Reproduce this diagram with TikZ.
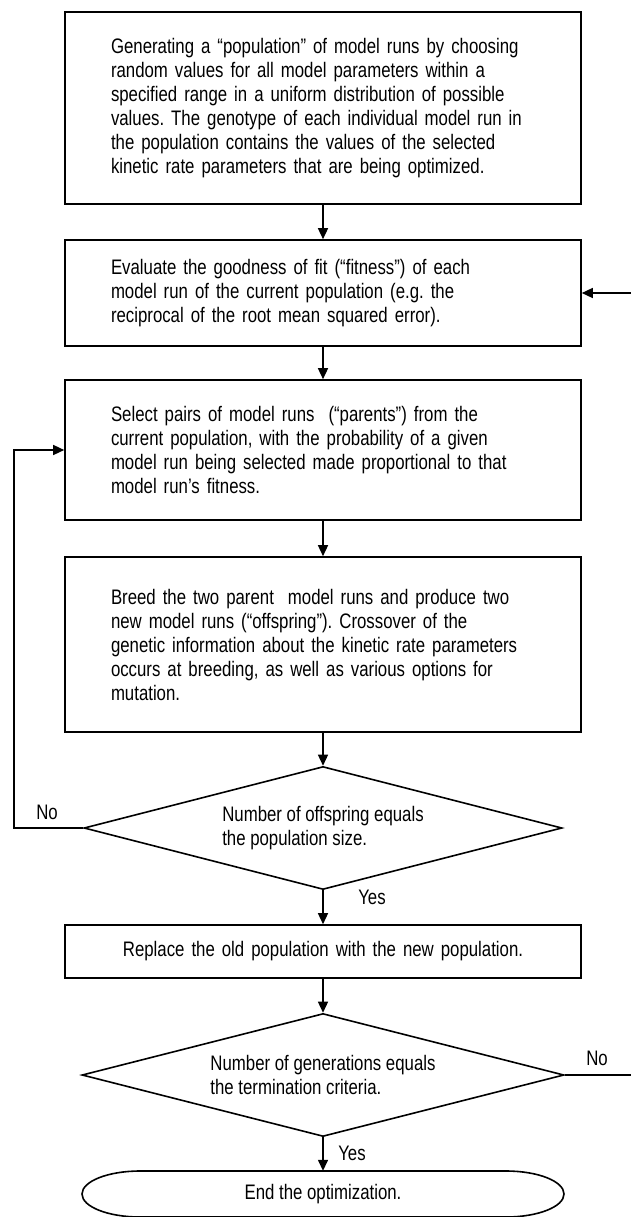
\documentclass[tikz,border=0pt]{standalone}
\usepackage{fontspec}
\setmainfont{Liberation Sans}[FakeStretch=0.80]
\usetikzlibrary{shapes.geometric,arrows.meta}
\begin{document}
\frenchspacing
\begin{tikzpicture}[x=1pt,y=-1pt,
  every node/.style={font=\fontsize{21}{24}\selectfont},
  procbox/.style={draw, line width=1.6pt, minimum width=516pt, text width=424pt, inner xsep=46pt, inner ysep=0pt, align=left},
  decbox/.style={draw, diamond, line width=1.6pt, aspect=3.9, inner sep=0pt, align=left, minimum height=123pt},
  flow/.style={line width=1.4pt, -{Triangle[length=11pt,width=10pt]}},
  lbl/.style={inner sep=0pt},
  outline/.style={line width=1.6pt}]
\useasboundingbox (0,0) rectangle (630,1217);

\node[procbox, minimum height=192pt] (b1) at (323,108) {Generating a “population” of model runs by choosing\\ random values for all model parameters within a\\ specified range in a uniform distribution of possible\\ values. The genotype of each individual model run in\\ the population contains the values of the selected\\ kinetic rate parameters that are being optimized.};

\node[procbox, minimum height=106pt] (b2) at (323,293) {Evaluate the goodness of fit (“fitness”) of each\\ model run of the current population (e.g. the\\ reciprocal of the root mean squared error).};

\node[procbox, minimum height=140pt] (b3) at (323,450) {Select pairs of model runs\ \ (“parents”) from the\\ current population, with the probability of a given\\ model run being selected made proportional to that\\ model run’s fitness.};

\node[procbox, minimum height=175pt] (b4) at (323,644.5) {Breed the two parent\ \ model runs and produce two\\ new model runs (“offspring”). Crossover of the\\ genetic information about the kinetic rate parameters\\ occurs at breeding, as well as various options for\\ mutation.};

\node[decbox, minimum width=478pt] (d1) at (323,828) {Number of offspring equals\\ the population size.};

\node[procbox, minimum height=53pt, align=center] (b5) at (323,951.5) {Replace the old population with the new population.};

\node[decbox, minimum width=482pt] (d2) at (323,1075) {Number of generations equals\\ the termination criteria.};

\node[inner sep=0pt, minimum width=483pt, minimum height=46pt] (e) at (323,1194) {End the optimization.};
\draw[outline] (140,1171) -- (506,1171) arc[start angle=-90, end angle=90, x radius=58, y radius=23]
  -- (140,1217) arc[start angle=90, end angle=270, x radius=58, y radius=23] -- cycle;

\draw[flow] (b1.south) -- (b2.north);
\draw[flow] (b2.south) -- (b3.north);
\draw[flow] (b3.south) -- (b4.north);
\draw[flow] (b4.south) -- (d1.north);
\draw[flow] (d1.south) -- (b5.north);
\draw[flow] (b5.south) -- (d2.north);
\draw[flow] (d2.south) -- (e.north);

\coordinate (l1) at (14,828);
\coordinate (l2) at (14,450);
\draw[flow] (d1.west) -- (l1) -- (l2) -- (b3.west);

\coordinate (r1) at (640,1075);
\coordinate (r2) at (640,293);
\draw[flow] (d2.east) -- (r1) -- (r2) -- (b2.east);

\node[lbl] (no1) at (47,812) {No};
\node[lbl] (yes1) at (372,897) {Yes};
\node[lbl] (no2) at (597,1058) {No};
\node[lbl] (yes2) at (352,1153) {Yes};
\end{tikzpicture}
\end{document}
